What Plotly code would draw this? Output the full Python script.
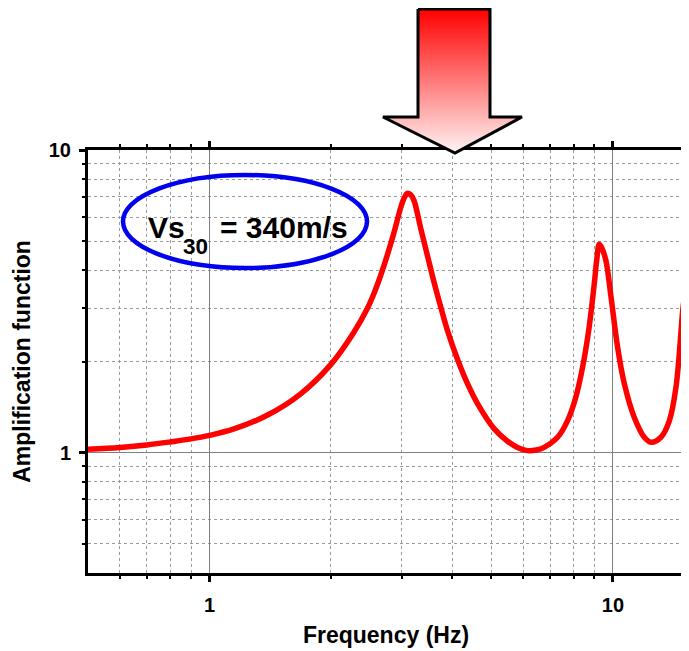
import math
import plotly.graph_objects as go

# ---- data ----
freq_hz = [0.5, 0.6, 0.7, 0.8, 0.9, 1.0, 1.15, 1.39, 1.68, 2.0, 2.28, 2.46, 2.56,
           2.66, 2.76, 2.87, 2.98, 3.04, 3.09, 3.15, 3.21, 3.34, 3.47, 3.6, 3.74,
           3.89, 4.12, 4.36, 4.62, 5.08, 5.48, 5.8, 6.14, 6.45, 6.75, 7.29, 7.72,
           8.09, 8.41, 8.73, 8.99, 9.12, 9.25, 9.4, 9.61, 9.89, 10.27, 10.67, 11.29,
           11.96, 12.43, 13.15, 13.8, 14.33, 14.89, 15.0]
amplification = [1.025, 1.04, 1.06, 1.085, 1.11, 1.14, 1.197, 1.328, 1.561, 1.957,
                 2.5, 2.99, 3.37, 3.87, 4.5, 5.37, 6.47, 6.95, 7.19, 7.12, 6.83, 5.5,
                 4.47, 3.67, 3.04, 2.53, 2.03, 1.689, 1.449, 1.198, 1.09, 1.04, 1.015,
                 1.02, 1.041, 1.124, 1.276, 1.524, 1.917, 2.6, 3.62, 4.35, 4.88, 4.72,
                 4.3, 3.27, 2.23, 1.689, 1.309, 1.124, 1.082, 1.124, 1.276, 1.645,
                 2.95, 3.2]

x_tick_vals = [1, 10]
x_tick_text = ["<b>1</b>", "<b>10</b>"]
y_tick_vals = [1, 10]
y_tick_text = ["<b>1</b>", "<b>10</b>"]
x_minor_vals = [0.6, 0.7, 0.8, 0.9, 2, 3, 4, 5, 6, 7, 8, 9]
y_minor_vals = [0.5, 0.6, 0.7, 0.8, 0.9, 2, 3, 4, 5, 6, 7, 8, 9]

x_title = "Frequency (Hz)"
y_title = "Amplification function"
note_main = "Vs"
note_sub = "30"
note_rest = "= 340m/s"

# ---- layout geometry (page pixels; the page body adds an 8px offset) ----
W, H = 689, 651
OFF = 8
PL, PR, PT, PB = 88, 684, 150, 573

FONT = "Liberation Sans, Arial, Helvetica, sans-serif"

fig = go.Figure()

fig.add_trace(go.Scatter(
    x=freq_hz, y=amplification, mode="lines",
    line=dict(color="#ff0000", width=5.5, shape="spline", smoothing=1.0),
    xaxis="x", yaxis="y", showlegend=False, hoverinfo="skip",
))

# decorative down arrow (overlay pixel axes)
arrow_x = [418, 490, 490, 522, 455, 383, 418, 418]
arrow_y = [9, 9, 117, 117, 153, 117, 117, 9]
fig.add_trace(go.Scatter(
    x=arrow_x, y=arrow_y, mode="lines", fill="toself",
    fillgradient=dict(type="vertical",
                      colorscale=[[0, "#fff4f4"], [1, "#ff0000"]]),
    line=dict(color="black", width=3),
    xaxis="x2", yaxis="y2", showlegend=False, hoverinfo="skip",
))

axis_common = dict(
    type="log",
    showline=True, linecolor="black", linewidth=3, mirror="ticks",
    ticks="outside", ticklen=6, tickwidth=3, tickcolor="black",
    showgrid=True, gridcolor="#808080", gridwidth=1.3,
    zeroline=False, automargin=False,
    tickfont=dict(family=FONT, size=20, color="black", weight="bold"),
)

fig.update_layout(
    width=W, height=H,
    margin=dict(l=0, r=0, t=0, b=0),
    paper_bgcolor="white", plot_bgcolor="rgba(0,0,0,0)",
    template="none",
    xaxis=dict(
        **axis_common,
        domain=[(PL - OFF) / W, (PR - OFF) / W],
        range=[math.log10(0.5), math.log10(15)],
        tickvals=x_tick_vals, ticktext=x_tick_text,
        ticklabelstandoff=6,
        minor=dict(tickvals=x_minor_vals, ticks="outside", ticklen=3, tickwidth=2,
                   tickcolor="black", showgrid=True, gridcolor="#9a9a9a",
                   gridwidth=1.2, griddash="dot"),
        title=dict(text=x_title, standoff=12,
                   font=dict(family=FONT, size=23, color="black", weight="bold")),
        anchor="y",
    ),
    yaxis=dict(
        **axis_common,
        domain=[1 - (PB - OFF) / H, 1 - (PT - OFF) / H],
        range=[math.log10(0.4), 1],
        tickvals=y_tick_vals, ticktext=y_tick_text,
        ticklabelstandoff=4,
        minor=dict(tickvals=y_minor_vals, ticks="outside", ticklen=3, tickwidth=2,
                   tickcolor="black", showgrid=True, gridcolor="#9a9a9a",
                   gridwidth=1.2, griddash="dot"),
        title=dict(text=y_title, standoff=12,
                   font=dict(family=FONT, size=23, color="black", weight="bold")),
        anchor="x",
    ),
    xaxis2=dict(domain=[0, 1], range=[OFF, W + OFF], visible=False, fixedrange=True,
                anchor="y2"),
    yaxis2=dict(domain=[0, 1], range=[H + OFF, OFF], visible=False, fixedrange=True,
                anchor="x2"),
    shapes=[
        dict(type="circle", xref="x2", yref="y2", x0=123, x1=367, y0=175, y1=268,
             line=dict(color="#0000ee", width=4.5), layer="above"),
    ],
    annotations=[
        dict(text=note_main, xref="x2", yref="y2", x=146, y=227.6, showarrow=False,
             xanchor="left", yanchor="middle",
             font=dict(family=FONT, size=30, color="black", weight="bold")),
        dict(text=note_sub, xref="x2", yref="y2", x=181, y=246.2, showarrow=False,
             xanchor="left", yanchor="middle",
             font=dict(family=FONT, size=22.5, color="black", weight="bold")),
        dict(text=note_rest, xref="x2", yref="y2", x=218, y=227.6, showarrow=False,
             xanchor="left", yanchor="middle",
             font=dict(family=FONT, size=30, color="black", weight="bold")),
    ],
)

fig.write_html("out.html")
